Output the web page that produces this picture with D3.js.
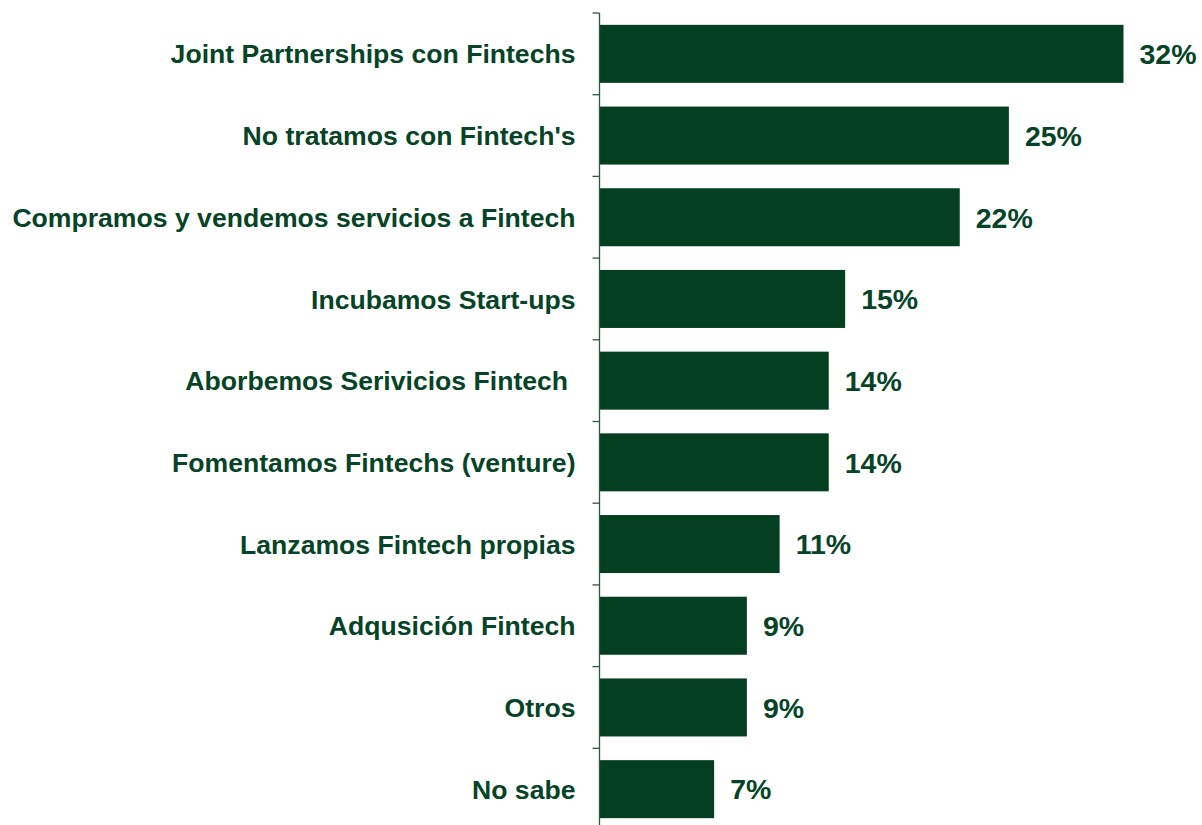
<!DOCTYPE html>
<html>
<head>
<meta charset="utf-8">
<script src="https://cdn.jsdelivr.net/npm/d3@7"></script>
<style>
  body { margin: 0; background: #fff; }
  svg { display: block; }
  .label { font-family: "Liberation Sans", Arial, sans-serif; font-weight: bold; fill: #064427; }
</style>
</head>
<body>
<div id="chart"></div>
<script>
var categories = [
  "Joint Partnerships con Fintechs",
  "No tratamos con Fintech's",
  "Compramos y vendemos servicios a Fintech",
  "Incubamos Start-ups",
  "Aborbemos Serivicios Fintech ",
  "Fomentamos Fintechs (venture)",
  "Lanzamos Fintech propias",
  "Adqusición Fintech",
  "Otros",
  "No sabe"
];
var values = [32, 25, 22, 15, 14, 14, 11, 9, 9, 7];

var width = 1202, height = 825;
var margin = { top: 13, right: 0, bottom: 0, left: 599.5 };
var barColor = "#033f20";

var svg = d3.select("#chart").append("svg")
  .attr("width", width)
  .attr("height", height);

var x = d3.scaleLinear().domain([0, 32]).range([margin.left, margin.left + 524]);
var y = d3.scaleBand().domain(categories).range([margin.top, margin.top + 817]).paddingInner(0.29).paddingOuter(0.145);

var data = categories.map(function (c, i) { return { cat: c, val: values[i] }; });

svg.selectAll("rect.bar")
  .data(data)
  .enter()
  .append("rect")
  .attr("class", "bar")
  .attr("x", x(0))
  .attr("y", function (d) { return y(d.cat); })
  .attr("width", function (d) { return x(d.val) - x(0); })
  .attr("height", y.bandwidth())
  .attr("fill", barColor);

// axis line with ticks between categories
var step = y.step();
var tickYs = categories.map(function (c) { return y(c) - y.paddingOuter() * step; });
tickYs.push(margin.top + 817);

svg.append("line")
  .attr("x1", x(0)).attr("x2", x(0))
  .attr("y1", margin.top).attr("y2", height)
  .attr("stroke", "#2d5a3d").attr("stroke-width", 1.3);

svg.selectAll("line.tick")
  .data(tickYs)
  .enter()
  .append("line")
  .attr("class", "tick")
  .attr("x1", x(0) - 7).attr("x2", x(0))
  .attr("y1", function (d) { return d; }).attr("y2", function (d) { return d; })
  .attr("stroke", "#2d5a3d").attr("stroke-width", 1.3);

// category labels
svg.selectAll("text.cat")
  .data(data)
  .enter()
  .append("text")
  .attr("class", "label cat")
  .attr("x", x(0) - 24)
  .attr("y", function (d) { return y(d.cat) + y.bandwidth() / 2; })
  .attr("dy", "0.36em")
  .attr("text-anchor", "end")
  .style("font-size", "26.6px")
  .style("white-space", "pre")
  .text(function (d) { return d.cat; });

// value labels
svg.selectAll("text.val")
  .data(data)
  .enter()
  .append("text")
  .attr("class", "label val")
  .attr("x", function (d) { return x(d.val) + 16; })
  .attr("y", function (d) { return y(d.cat) + y.bandwidth() / 2; })
  .attr("dy", "0.36em")
  .style("font-size", "28.5px")
  .text(function (d) { return d.val + "%"; });
</script>
</body>
</html>
